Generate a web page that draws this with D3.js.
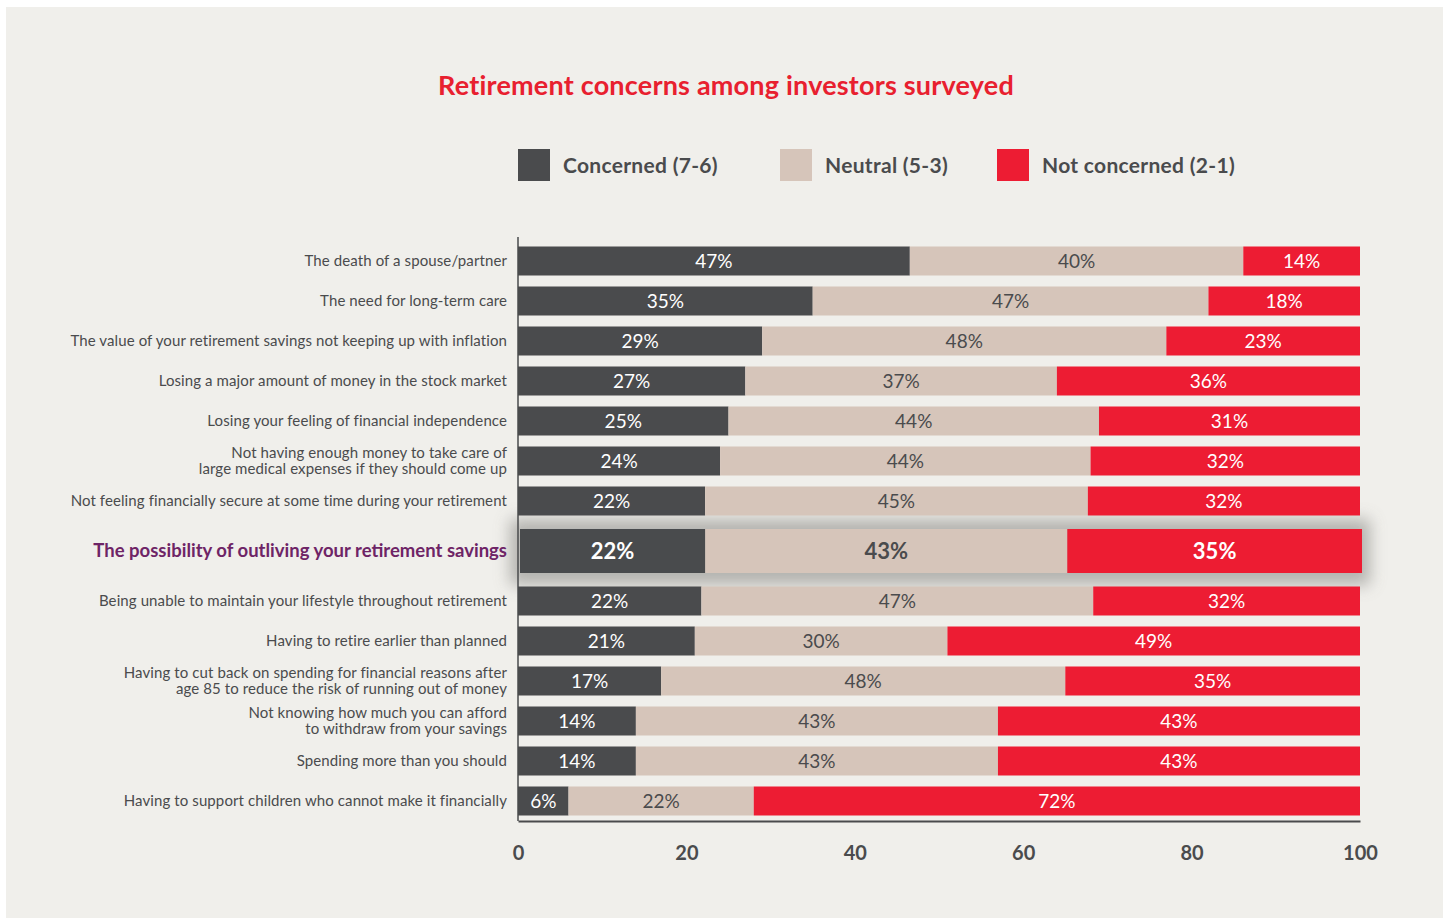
<!DOCTYPE html>
<html><head><meta charset="utf-8">
<script src="https://cdn.jsdelivr.net/npm/d3@7"></script>
<style>
html,body{margin:0;padding:0;background:#fff;}
svg{display:block;}
</style></head>
<body>
<script>
const categories = [
  ["The death of a spouse/partner"],
  ["The need for long-term care"],
  ["The value of your retirement savings not keeping up with inflation"],
  ["Losing a major amount of money in the stock market"],
  ["Losing your feeling of financial independence"],
  ["Not having enough money to take care of","large medical expenses if they should come up"],
  ["Not feeling financially secure at some time during your retirement"],
  ["The possibility of outliving your retirement savings"],
  ["Being unable to maintain your lifestyle throughout retirement"],
  ["Having to retire earlier than planned"],
  ["Having to cut back on spending for financial reasons after","age 85 to reduce the risk of running out of money"],
  ["Not knowing how much you can afford","to withdraw from your savings"],
  ["Spending more than you should"],
  ["Having to support children who cannot make it financially"]
];
const concerned    = [47,35,29,27,25,24,22,22,22,21,17,14,14,6];
const neutral      = [40,47,48,37,44,44,45,43,47,30,48,43,43,22];
const notConcerned = [14,18,23,36,31,32,32,35,32,49,35,43,43,72];
const highlightIndex = 7;
const seriesNames = ["Concerned (7-6)","Neutral (5-3)","Not concerned (2-1)"];
const xTicks = [0,20,40,60,80,100];
const title = "Retirement concerns among investors surveyed";

const W = 1449, H = 922;
const colors = ["#4a4b4d","#d6c5ba","#ed1c33"];
const labelColors = ["#ffffff","#4a4b4d","#ffffff"];
const font = "Lato, 'Open Sans', sans-serif";

const svg = d3.select("body").append("svg").attr("width",W).attr("height",H);
const defs = svg.append("defs");
const f = defs.append("filter").attr("id","blur").attr("x","-20%").attr("y","-100%").attr("width","140%").attr("height","300%");
f.append("feGaussianBlur").attr("stdDeviation",8);
const f2 = defs.append("filter").attr("id","soft");
f2.append("feGaussianBlur").attr("stdDeviation",0.7);

svg.append("rect").attr("x",6).attr("y",7).attr("width",1437).attr("height",911).attr("fill","#f0efeb");

svg.append("text").attr("x",726).attr("y",95).attr("text-anchor","middle")
  .attr("font-family",font).attr("font-weight",700).attr("font-size",27).attr("letter-spacing",0.2)
  .attr("fill","#e8202f").text(title);

// legend
const legX = [518,780,997];
seriesNames.forEach((n,i)=>{
  svg.append("rect").attr("x",legX[i]).attr("y",149).attr("width",32).attr("height",32).attr("fill",colors[i]);
  svg.append("text").attr("x",legX[i]+45).attr("y",173).attr("font-family",font).attr("font-weight",700)
    .attr("font-size",21).attr("letter-spacing",0.3).attr("fill","#4a4b4d").text(n);
});

const x = d3.scaleLinear().domain([0,100]).range([518,1360]);
const weights = categories.map((c,i)=> i===highlightIndex ? 1.5 : 1);
const cum = [0]; weights.forEach((w,i)=>cum.push(cum[i]+w));
const y = d3.scaleLinear().domain([0,cum[cum.length-1]]).range([241,241+cum[cum.length-1]*40]);

const rows = categories.map((c,i)=>{
  const vals=[concerned[i],neutral[i],notConcerned[i]];
  const tot=d3.sum(vals);
  let acc=0;
  const segs=vals.map((v,k)=>{const s={k,v,x0:acc/tot*100,x1:(acc+v)/tot*100};acc+=v;return s;});
  const cy=y(cum[i]+weights[i]/2);
  return {i,label:c,segs,cy,hl:i===highlightIndex};
});

// highlight shadow
rows.filter(r=>r.hl).forEach(r=>{
  svg.append("rect").attr("x",x(0)-8).attr("y",r.cy-32).attr("width",x(100)-x(0)+18).attr("height",66)
    .attr("fill","#a9a8a4").attr("opacity",0.85).attr("filter","url(#blur)");
});

const g = svg.append("g");
rows.forEach(r=>{
  const h = r.hl?44:29;
  const xs = r.hl ? d3.scaleLinear().domain([0,100]).range([x(0)+2,x(100)+2]) : x;
  r.segs.forEach(s=>{
    g.append("rect").attr("x",xs(s.x0)).attr("y",r.cy-h/2).attr("width",xs(s.x1)-xs(s.x0)).attr("height",h)
      .attr("fill",colors[s.k]).attr("filter",r.hl?"url(#soft)":null);
    g.append("text").attr("x",(xs(s.x0)+xs(s.x1))/2).attr("y",r.cy).attr("dy","0.36em")
      .attr("text-anchor","middle").attr("font-family",font)
      .attr("font-weight",r.hl?700:400).attr("font-size",r.hl?22:19)
      .attr("fill",labelColors[s.k]).text(s.v+"%");
  });
  const t = svg.append("text").attr("x",507).attr("text-anchor","end").attr("font-family",font)
    .attr("font-size",r.hl?18.5:15).attr("font-weight",r.hl?700:400).attr("letter-spacing",r.hl?0:0.1)
    .attr("fill",r.hl?"#6e2466":"#4a4b4d");
  const n=r.label.length;
  r.label.forEach((line,j)=>{
    t.append("tspan").attr("x",507).attr("y",r.cy+(j-(n-1)/2)*16).attr("dy","0.35em").text(line);
  });
});

// axes
svg.append("line").attr("x1",x(0)).attr("x2",x(0)).attr("y1",237).attr("y2",y(cum[cum.length-1])).attr("stroke","#4a4b4d").attr("stroke-width",1.5);
const ax = svg.append("g").attr("transform",`translate(0,${y(cum[cum.length-1])})`)
  .call(d3.axisBottom(x).tickValues(xTicks).tickSize(0).tickPadding(25).tickFormat(d3.format("d")));
ax.select(".domain").attr("stroke","#4a4b4d").attr("stroke-width",2);
ax.selectAll("text").attr("font-family",font).attr("font-weight",700).attr("font-size",20).attr("fill","#4a4b4d");
</script>
</body></html>
